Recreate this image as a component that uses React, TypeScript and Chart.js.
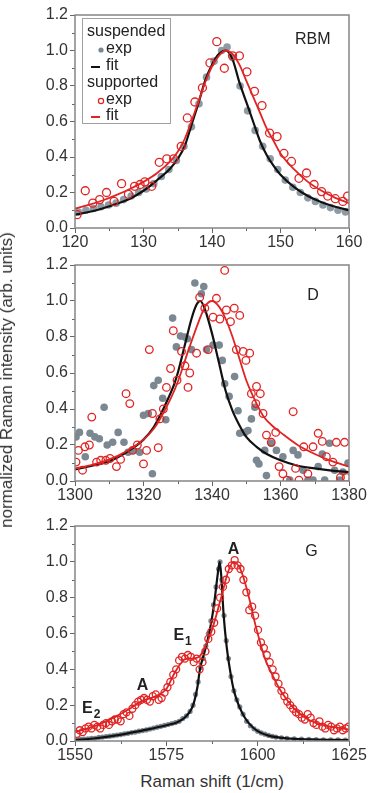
import React, { useEffect, useRef } from "react";
import { Chart, registerables } from "chart.js";

Chart.register(...registerables);

const FONT = "'Liberation Sans', Arial, Helvetica, sans-serif";
const RED = "#e02424";
const GRAY = "#7b8791";
const LIGHT_GRAY = "#8e9aa4";

// ---------- RBM panel ----------
const rbmSuspendedExp: [number, number][] = [
  [120.5, 0.09], [121.6, 0.1], [122.7, 0.11], [123.8, 0.12], [124.9, 0.13], [126.0, 0.14],
  [127.1, 0.16], [128.2, 0.18], [129.3, 0.2], [130.4, 0.22], [131.5, 0.25], [132.6, 0.29],
  [133.7, 0.33], [134.8, 0.38], [135.9, 0.46], [137.0, 0.57], [138.1, 0.7], [139.2, 0.85],
  [140.3, 0.94], [141.4, 1.0], [142.2, 1.02], [143.0, 0.96], [144.1, 0.8], [145.2, 0.66],
  [146.3, 0.55], [147.4, 0.46], [148.5, 0.39], [149.6, 0.33], [150.7, 0.27], [151.8, 0.23],
  [152.9, 0.2], [154.0, 0.17], [155.1, 0.15], [156.2, 0.13], [157.3, 0.115], [158.4, 0.1], [159.5, 0.09],
];
const rbmSuspendedFit: [number, number][] = [
  [120, 0.075], [122, 0.09], [124, 0.11], [126, 0.135], [128, 0.165], [130, 0.21], [132, 0.27],
  [134, 0.34], [135, 0.39], [136, 0.46], [137, 0.58], [138, 0.7], [139, 0.83], [140, 0.92],
  [141, 0.98], [142, 1.0], [143, 0.95], [144, 0.82], [145, 0.71], [146, 0.6], [147, 0.49],
  [148, 0.41], [149, 0.35], [150, 0.3], [152, 0.23], [154, 0.18], [156, 0.145], [158, 0.12], [160, 0.1],
];
const rbmSupportedExp: [number, number][] = [
  [120.3, 0.075], [121.5, 0.21], [122.6, 0.14], [123.6, 0.16], [124.6, 0.2], [125.7, 0.15],
  [126.8, 0.25], [127.8, 0.19], [128.7, 0.235], [129.5, 0.245], [130.2, 0.26], [131.2, 0.235],
  [132.3, 0.37], [133.4, 0.39], [134.4, 0.39], [135.5, 0.46], [136.4, 0.62], [137.5, 0.71],
  [138.6, 0.79], [139.7, 0.93], [140.7, 1.05], [141.8, 0.9], [143.0, 0.97], [144.0, 0.97],
  [145.1, 0.88], [146.2, 0.77], [147.3, 0.69], [148.4, 0.535], [149.5, 0.515], [150.5, 0.42],
  [151.6, 0.375], [152.7, 0.28], [153.8, 0.31], [154.9, 0.245], [156.0, 0.205], [156.9, 0.18],
  [158.0, 0.165], [159.1, 0.15], [159.8, 0.18],
];
const rbmSupportedFit: [number, number][] = [
  [120, 0.11], [122, 0.13], [124, 0.155], [126, 0.185], [128, 0.22], [130, 0.26], [132, 0.31],
  [134, 0.38], [135, 0.43], [136, 0.5], [137, 0.6], [138, 0.71], [139, 0.82], [140, 0.91],
  [141, 0.97], [142, 1.0], [143, 0.98], [144, 0.92], [145, 0.83], [146, 0.74], [147, 0.65],
  [148, 0.56], [149, 0.49], [150, 0.42], [152, 0.33], [154, 0.26], [156, 0.21], [158, 0.17], [160, 0.14],
];

// ---------- D panel ----------
const dSuspendedExp: [number, number][] = [
  [1300.3, 0.245], [1301.3, 0.27], [1303, 0.135], [1304.4, 0.265], [1305.8, 0.245], [1307.1, 0.235],
  [1308.5, 0.41], [1309.4, 0.2], [1311, 0.215], [1312.6, 0.27], [1314.3, 0.215], [1315.5, 0.16],
  [1317, 0.17], [1318.9, 0.16], [1320, 0.365], [1321.4, 0.375], [1322.6, 0.04], [1323, 0.53],
  [1324.3, 0.56], [1325.6, 0.46], [1326.5, 0.34], [1328.5, 0.905], [1329.6, 0.745], [1330.8, 0.805],
  [1332.1, 0.8], [1332.8, 0.79], [1334, 0.73], [1335, 1.1], [1336.9, 1.04], [1337.6, 1.08],
  [1338.4, 0.73], [1340.3, 0.755], [1342.1, 0.755], [1343, 0.67], [1343.7, 0.54], [1345, 0.47],
  [1346.6, 0.58], [1347.6, 0.39], [1348.1, 0.265], [1349.6, 0.27], [1350.5, 0.28], [1351.5, 0.345],
  [1352.5, 0.41], [1353, 0.115], [1353.7, 0.095], [1355.4, 0.17], [1355.9, 0.03], [1357.3, 0.21],
  [1358.8, 0.17], [1360.7, 0.135], [1362.7, 0.005], [1363.7, 0.17], [1365.1, 0.145], [1366.6, 0.06],
  [1368, 0.005], [1369.5, 0.005], [1371, 0.08], [1372.2, 0.15], [1372.9, 0.005], [1374.3, 0.21],
  [1375.8, 0.06], [1377.3, 0.005], [1378.2, 0.05], [1379.7, 0.1],
];
const dSuspendedFit: [number, number][] = [
  [1300, 0.065], [1305, 0.085], [1310, 0.11], [1315, 0.16], [1320, 0.23], [1323, 0.3], [1325, 0.37],
  [1327, 0.45], [1329, 0.54], [1330, 0.6], [1332, 0.75], [1334, 0.9], [1335.5, 0.98], [1336.6, 1.0],
  [1338, 0.95], [1340, 0.82], [1342, 0.66], [1344, 0.5], [1346, 0.39], [1348, 0.31], [1350, 0.245],
  [1353, 0.19], [1356, 0.15], [1360, 0.115], [1365, 0.085], [1370, 0.07], [1375, 0.058], [1380, 0.05],
];
const dSupportedExp: [number, number][] = [
  [1300.3, 0.105], [1301, 0.17], [1302.2, 0.06], [1302.9, 0.19], [1304.2, 0.2], [1304.9, 0.355],
  [1306.3, 0.105], [1307.5, 0.115], [1309, 0.115], [1310.2, 0.125], [1312.1, 0.08], [1313.3, 0.12],
  [1314.9, 0.485], [1316, 0.43], [1316.8, 0.17], [1318.2, 0.2], [1320, 0.095], [1320.9, 0.17],
  [1321.7, 0.73], [1322.6, 0.375], [1324.3, 0.185], [1324.8, 0.345], [1325.8, 0.4], [1326.7, 0.52],
  [1327.9, 0.625], [1328.7, 0.835], [1329.8, 0.56], [1331.1, 0.72], [1332.1, 0.64], [1333, 0.52],
  [1333.5, 0.6], [1335.5, 0.71], [1336.4, 1.02], [1337.9, 0.96], [1338.9, 0.73], [1340.3, 0.91],
  [1341.3, 1.015], [1342.3, 0.9], [1343.7, 1.17], [1344.2, 0.95], [1345.4, 0.885], [1346.5, 0.96],
  [1347.1, 0.73], [1348.1, 0.92], [1349.1, 0.72], [1349.9, 0.67], [1351, 0.71], [1351.5, 0.485],
  [1352.8, 0.43], [1353, 0.525], [1354.1, 0.485], [1354.9, 0.375], [1355.9, 0.255], [1357.3, 0.215],
  [1358.6, 0.27], [1359.6, 0.08], [1360.7, 0.04], [1361.9, 0.005], [1363.7, 0.385], [1364.4, 0.07],
  [1365.4, 0.005], [1366.8, 0.19], [1368, 0.04], [1369.5, 0.19], [1371, 0.265], [1372.2, 0.22],
  [1373.4, 0.135], [1375.3, 0.105], [1376.3, 0.215], [1377.5, 0.02], [1378.7, 0.215], [1379.2, 0.02],
];
const dSupportedFit: [number, number][] = [
  [1300, 0.07], [1305, 0.09], [1310, 0.12], [1315, 0.165], [1320, 0.23], [1323, 0.29], [1325, 0.35],
  [1328, 0.46], [1330, 0.55], [1333, 0.72], [1336, 0.88], [1338, 0.97], [1340, 1.0], [1342, 0.97],
  [1344, 0.9], [1346, 0.8], [1348, 0.68], [1350, 0.56], [1352, 0.47], [1355, 0.36], [1358, 0.3],
  [1360, 0.27], [1365, 0.2], [1370, 0.15], [1375, 0.11], [1380, 0.08],
];

// ---------- G panel ----------
const gSuspendedExp: [number, number][] = [
  [1550.5, 0.005], [1551.5, 0.01], [1552.5, 0.01], [1553.5, 0.012], [1554.5, 0.015], [1555.5, 0.015],
  [1556.5, 0.02], [1557.5, 0.022], [1558.5, 0.025], [1559.5, 0.027], [1560.5, 0.03], [1561.5, 0.033],
  [1562.5, 0.036], [1563.5, 0.04], [1564.5, 0.043], [1565.5, 0.047], [1566.5, 0.05], [1567.5, 0.055],
  [1568.5, 0.058], [1569.5, 0.062], [1570.5, 0.067], [1571.5, 0.072], [1572.5, 0.077], [1573.5, 0.082],
  [1574.5, 0.087], [1575.5, 0.092], [1576.5, 0.097], [1577.5, 0.103], [1578.5, 0.11], [1579.5, 0.125],
  [1580.5, 0.14], [1581.5, 0.165], [1582.3, 0.2], [1583, 0.26], [1583.7, 0.33], [1584.4, 0.41],
  [1585.1, 0.46], [1585.8, 0.53], [1586.5, 0.6], [1587.2, 0.67], [1587.9, 0.76], [1588.6, 0.86],
  [1589.3, 0.96], [1589.7, 1.0], [1590.2, 0.9], [1590.8, 0.7], [1591.4, 0.56], [1592, 0.46],
  [1592.7, 0.36], [1593.5, 0.28], [1594.3, 0.23], [1595.1, 0.19], [1596, 0.15], [1597, 0.11],
  [1598, 0.085], [1599, 0.068], [1600, 0.055], [1601, 0.045], [1602, 0.038], [1603, 0.031],
  [1604, 0.026], [1605, 0.022], [1606.5, 0.018], [1608, 0.015], [1610, 0.012], [1612, 0.01],
  [1614, 0.009], [1616, 0.008], [1618, 0.007], [1620, 0.006], [1622, 0.006], [1624, 0.005],
];
const gSuspendedFit: [number, number][] = [
  [1550, 0.005], [1555, 0.014], [1560, 0.027], [1565, 0.045], [1570, 0.065], [1575, 0.088],
  [1578, 0.105], [1580, 0.13], [1581.5, 0.165], [1582.5, 0.21], [1583.5, 0.3], [1584.2, 0.4],
  [1585.5, 0.5], [1586.7, 0.6], [1587.6, 0.7], [1588.3, 0.8], [1589, 0.92], [1589.6, 1.0],
  [1590, 0.93], [1590.7, 0.7], [1591.5, 0.53], [1592.4, 0.4], [1593.5, 0.28], [1595, 0.19],
  [1596.5, 0.13], [1598, 0.09], [1600, 0.055], [1603, 0.03], [1608, 0.015], [1615, 0.009], [1625, 0.005],
];
const gSupportedExp: [number, number][] = [
  [1550.5, 0.04], [1551.3, 0.06], [1552.1, 0.05], [1552.9, 0.07], [1553.7, 0.08], [1554.5, 0.07],
  [1555.3, 0.09], [1556.1, 0.08], [1556.9, 0.07], [1557.7, 0.09], [1558.5, 0.1], [1559.3, 0.09],
  [1560.1, 0.11], [1560.9, 0.12], [1561.7, 0.12], [1562.5, 0.11], [1563.3, 0.15], [1564.1, 0.16],
  [1564.9, 0.14], [1565.7, 0.18], [1566.5, 0.2], [1567.3, 0.22], [1568.1, 0.23], [1568.9, 0.24],
  [1569.7, 0.23], [1570.5, 0.22], [1571.3, 0.25], [1572.1, 0.26], [1572.9, 0.23], [1573.7, 0.24],
  [1574.5, 0.27], [1575.3, 0.3], [1576.1, 0.33], [1576.9, 0.37], [1577.7, 0.4], [1578.5, 0.45],
  [1579.3, 0.47], [1580.1, 0.46], [1580.9, 0.48], [1581.7, 0.47], [1582.5, 0.44], [1583.3, 0.46],
  [1584.1, 0.4], [1584.9, 0.44], [1585.7, 0.5], [1586.5, 0.57], [1587.3, 0.61], [1588.1, 0.66],
  [1588.9, 0.74], [1589.7, 0.8], [1590.5, 0.86], [1591.3, 0.9], [1592.1, 0.96], [1592.9, 0.98],
  [1593.7, 1.01], [1594.5, 0.98], [1595.3, 0.96], [1596.1, 0.9], [1596.9, 0.83], [1597.7, 0.73],
  [1598.5, 0.75], [1599.3, 0.7], [1600.1, 0.62], [1600.9, 0.55], [1601.7, 0.52], [1602.5, 0.48],
  [1603.3, 0.44], [1604.1, 0.4], [1604.9, 0.36], [1605.7, 0.32], [1606.5, 0.28], [1607.3, 0.25],
  [1608.1, 0.22], [1608.9, 0.2], [1609.7, 0.18], [1610.5, 0.16], [1611.3, 0.15], [1612.1, 0.13],
  [1612.9, 0.12], [1613.7, 0.15], [1614.5, 0.13], [1615.3, 0.1], [1616.1, 0.09], [1616.9, 0.11],
  [1617.7, 0.08], [1618.5, 0.07], [1619.3, 0.09], [1620.1, 0.08], [1620.9, 0.06], [1621.7, 0.07],
  [1622.5, 0.08], [1623.3, 0.06], [1624.1, 0.07], [1624.9, 0.08],
];
const gSupportedFit: [number, number][] = [
  [1550, 0.05], [1555, 0.08], [1560, 0.125], [1565, 0.18], [1568, 0.22], [1570, 0.235], [1572, 0.25],
  [1575, 0.29], [1577, 0.37], [1578.5, 0.42], [1580, 0.455], [1582, 0.46], [1584, 0.47], [1585.5, 0.52],
  [1587.5, 0.62], [1590, 0.8], [1592, 0.95], [1593.4, 1.0], [1595, 0.97], [1596, 0.92], [1597, 0.85],
  [1598, 0.77], [1599, 0.68], [1600, 0.6], [1602, 0.46], [1604, 0.37], [1606, 0.29], [1608, 0.23],
  [1610, 0.18], [1613, 0.13], [1616, 0.1], [1620, 0.08], [1625, 0.065],
];

// ---------- axes ----------
const yTicks = [0, 0.2, 0.4, 0.6, 0.8, 1.0, 1.2];
const yMinor = [0.1, 0.3, 0.5, 0.7, 0.9, 1.1];
const rbmXTicks = [120, 130, 140, 150, 160];
const rbmXMinor = [125, 135, 145, 155];
const dXTicks = [1300, 1320, 1340, 1360, 1380];
const dXMinor = [1310, 1330, 1350, 1370];
const gXTicks = [1550, 1575, 1600, 1625];
const gXMinor = [1562.5, 1587.5, 1612.5];

type Label = { t: string; sub?: string; x: number; y: number; bold?: boolean };
const rbmLabels: Label[] = [{ t: "RBM", x: 154.7, y: 1.06 }];
const dLabels: Label[] = [{ t: "D", x: 1369.5, y: 1.03 }];
const gLabels: Label[] = [
  { t: "G", x: 1614.7, y: 1.055 },
  { t: "A", x: 1593.4, y: 1.07, bold: true },
  { t: "E", sub: "1", x: 1578.4, y: 0.59, bold: true },
  { t: "A", x: 1568.5, y: 0.31, bold: true },
  { t: "E", sub: "2", x: 1553.4, y: 0.18, bold: true },
];

type PanelProps = {
  top: number;
  height: number;
  padTop: number;
  xAxisH: number;
  xTicks: number[];
  xMinor: number[];
  suspExp: [number, number][];
  suspFit: [number, number][];
  suppExp: [number, number][];
  suppFit: [number, number][];
  labels: Label[];
  legend?: boolean;
  ptR: number;
  grayR: number;
  grayColor: string;
};

function Panel(p: PanelProps) {
  const ref = useRef<HTMLCanvasElement | null>(null);
  useEffect(() => {
    if (!ref.current) return;
    const toPts = (a: [number, number][]) => a.map(([x, y]) => ({ x, y }));
    const xMin = p.xTicks[0];
    const xMax = p.xTicks[p.xTicks.length - 1];
    const step = p.xTicks[1] - p.xTicks[0];
    const deco = {
      id: "deco",
      afterDraw(chart: any) {
        const { ctx, chartArea: a, scales } = chart;
        const sx = scales.x;
        const sy = scales.y;
        ctx.save();
        ctx.strokeStyle = "#666";
        ctx.lineWidth = 1;
        for (const v of yMinor) {
          const y = Math.round(sy.getPixelForValue(v)) + 0.5;
          ctx.beginPath();
          ctx.moveTo(a.left - 3, y);
          ctx.lineTo(a.left, y);
          ctx.stroke();
        }
        for (const v of p.xMinor) {
          const x = Math.round(sx.getPixelForValue(v)) + 0.5;
          ctx.beginPath();
          ctx.moveTo(x, a.bottom);
          ctx.lineTo(x, a.bottom + 3);
          ctx.stroke();
        }
        ctx.strokeStyle = "#858585";
        ctx.lineWidth = 1.5;
        ctx.strokeRect(a.left, a.top, a.right - a.left, a.bottom - a.top);

        ctx.fillStyle = "#222";
        ctx.textBaseline = "middle";
        for (const l of p.labels) {
          const x = sx.getPixelForValue(l.x);
          const y = sy.getPixelForValue(l.y);
          ctx.font = `${l.bold ? "bold " : ""}16px ${FONT}`;
          ctx.textAlign = "center";
          ctx.fillText(l.t, x, y);
          if (l.sub) {
            const w = ctx.measureText(l.t).width;
            ctx.font = `bold 12px ${FONT}`;
            ctx.textAlign = "left";
            ctx.fillText(l.sub, x + w / 2 + 1, y + 6);
          }
        }

        if (p.legend) {
          const L = a.left + 7;
          const T = a.top + 3;
          ctx.strokeStyle = "#a0a0a0";
          ctx.lineWidth = 1;
          ctx.strokeRect(L + 0.5, T + 0.5, 88, 105);
          ctx.font = `16px ${FONT}`;
          ctx.textAlign = "left";
          ctx.fillStyle = "#222";
          const rows = [T + 14, T + 31, T + 48, T + 65, T + 82, T + 98];
          ctx.fillText("suspended", L + 5, rows[0]);
          ctx.fillText("exp", L + 24, rows[1]);
          ctx.fillText("fit", L + 24, rows[2]);
          ctx.fillText("supported", L + 5, rows[3]);
          ctx.fillText("exp", L + 24, rows[4]);
          ctx.fillText("fit", L + 24, rows[5]);
          ctx.fillStyle = GRAY;
          ctx.beginPath();
          ctx.arc(L + 19, rows[1] + 1, 2.6, 0, Math.PI * 2);
          ctx.fill();
          ctx.strokeStyle = "#111";
          ctx.lineWidth = 2;
          ctx.beginPath();
          ctx.moveTo(L + 9, rows[2] + 1);
          ctx.lineTo(L + 18, rows[2] + 1);
          ctx.stroke();
          ctx.strokeStyle = RED;
          ctx.lineWidth = 1.2;
          ctx.beginPath();
          ctx.arc(L + 19, rows[4] + 1, 2.6, 0, Math.PI * 2);
          ctx.stroke();
          ctx.lineWidth = 2;
          ctx.beginPath();
          ctx.moveTo(L + 9, rows[5] + 1);
          ctx.lineTo(L + 18, rows[5] + 1);
          ctx.stroke();
        }
        ctx.restore();
      },
    };
    const chart = new Chart(ref.current, {
      type: "scatter",
      data: {
        datasets: [
          {
            data: toPts(p.suspExp),
            backgroundColor: p.grayColor,
            borderColor: p.grayColor,
            borderWidth: 0,
            pointRadius: p.grayR,
            order: 4,
          },
          {
            data: toPts(p.suspFit),
            showLine: true,
            borderColor: "#111",
            borderWidth: 2.2,
            pointRadius: 0,
            cubicInterpolationMode: "monotone",
            order: 3,
          },
          {
            data: toPts(p.suppExp),
            backgroundColor: "rgba(255,255,255,0)",
            borderColor: RED,
            borderWidth: 1.3,
            pointRadius: p.ptR,
            order: 2,
          },
          {
            data: toPts(p.suppFit),
            showLine: true,
            borderColor: RED,
            borderWidth: 1.8,
            pointRadius: 0,
            cubicInterpolationMode: "monotone",
            order: 1,
          },
        ] as any,
      },
      plugins: [deco],
      options: {
        animation: false,
        responsive: true,
        maintainAspectRatio: false,
        layout: { padding: { top: p.padTop, right: 20, left: 0, bottom: 0 } },
        plugins: { legend: { display: false }, tooltip: { enabled: false } },
        scales: {
          x: {
            type: "linear",
            min: xMin,
            max: xMax,
            afterFit: (s: any) => {
              s.height = p.xAxisH;
            },
            afterBuildTicks: (s: any) => {
              s.ticks = p.xTicks.map((v) => ({ value: v }));
            },
            ticks: {
              stepSize: step,
              color: "#333",
              font: { family: FONT, size: 16 },
              padding: 0,
              maxRotation: 0,
              autoSkip: false,
              callback: (v: any) => String(v),
            },
            grid: { drawOnChartArea: false, drawTicks: true, tickLength: 5, color: "#666" },
            border: { display: false },
          },
          y: {
            type: "linear",
            min: 0,
            max: 1.2,
            afterFit: (s: any) => {
              s.width = 75;
            },
            afterBuildTicks: (s: any) => {
              s.ticks = yTicks.map((v) => ({ value: v }));
            },
            ticks: {
              color: "#333",
              font: { family: FONT, size: 16 },
              padding: 2,
              autoSkip: false,
              callback: (v: any) => Number(v).toFixed(1),
            },
            grid: { drawOnChartArea: false, drawTicks: true, tickLength: 5, color: "#666" },
            border: { display: false },
          },
        },
      } as any,
    });
    return () => chart.destroy();
  }, []);
  return (
    <div style={{ position: "absolute", left: 0, top: p.top, width: 369, height: p.height }}>
      <canvas ref={ref} />
    </div>
  );
}

export default function App() {
  return (
    <div
      style={{
        position: "absolute",
        left: 0,
        top: 0,
        width: 369,
        height: 793,
        background: "#fff",
        overflow: "hidden",
      }}
    >
      <Panel
        top={0}
        height={250}
        padTop={15}
        xAxisH={22}
        xTicks={rbmXTicks}
        xMinor={rbmXMinor}
        suspExp={rbmSuspendedExp}
        suspFit={rbmSuspendedFit}
        suppExp={rbmSupportedExp}
        suppFit={rbmSupportedFit}
        labels={rbmLabels}
        legend
        ptR={4}
        grayR={3.8}
        grayColor={LIGHT_GRAY}
      />
      <Panel
        top={250}
        height={255}
        padTop={15}
        xAxisH={24}
        xTicks={dXTicks}
        xMinor={dXMinor}
        suspExp={dSuspendedExp}
        suspFit={dSuspendedFit}
        suppExp={dSupportedExp}
        suppFit={dSupportedFit}
        labels={dLabels}
        ptR={3.8}
        grayR={3.8}
        grayColor={GRAY}
      />
      <Panel
        top={505}
        height={260}
        padTop={21}
        xAxisH={24}
        xTicks={gXTicks}
        xMinor={gXMinor}
        suspExp={gSuspendedExp}
        suspFit={gSuspendedFit}
        suppExp={gSupportedExp}
        suppFit={gSupportedFit}
        labels={gLabels}
        ptR={3.5}
        grayR={2.6}
        grayColor={GRAY}
      />
      <div
        style={{
          position: "absolute",
          left: 7,
          top: 380,
          transform: "translate(-50%, -50%) rotate(-90deg)",
          whiteSpace: "nowrap",
          font: `17px ${FONT}`,
          color: "#333",
        }}
      >
        normalized Raman intensity (arb. units)
      </div>
      <div
        style={{
          position: "absolute",
          left: 212,
          top: 782,
          transform: "translate(-50%, -50%)",
          whiteSpace: "nowrap",
          font: `17px ${FONT}`,
          color: "#333",
        }}
      >
        Raman shift (1/cm)
      </div>
    </div>
  );
}
